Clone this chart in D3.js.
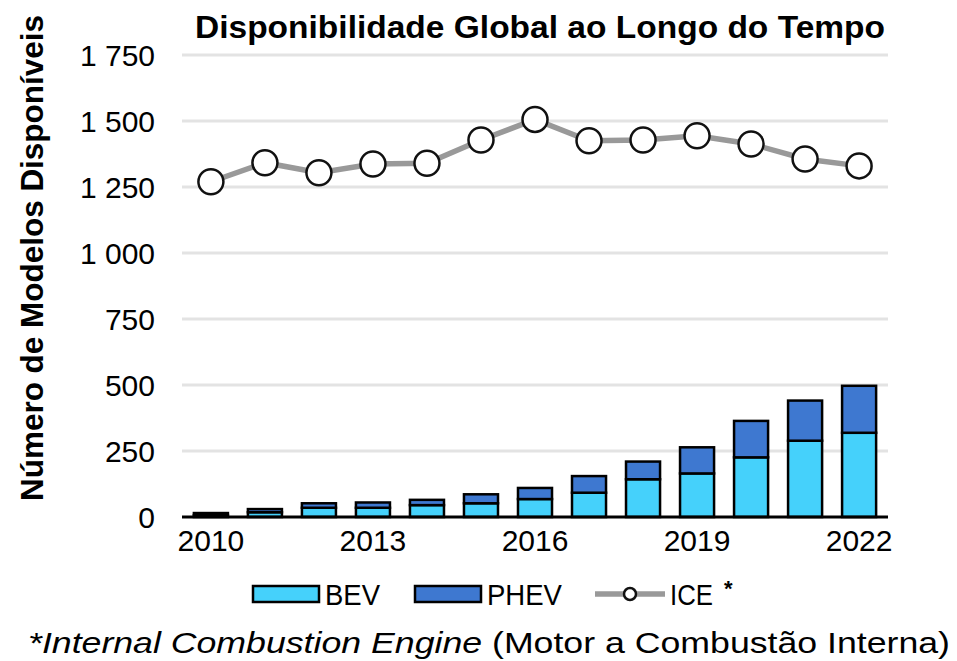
<!DOCTYPE html>
<html>
<head>
<meta charset="utf-8">
<script src="https://cdn.jsdelivr.net/npm/d3@7"></script>
<style>
  body { margin: 0; background: #fff; }
  text { font-family: "Liberation Sans", Arial, sans-serif; fill: #000; }
</style>
</head>
<body>
<svg id="chart" width="957" height="661"></svg>
<script>
// data
const years = ['2010','2011','2012','2013','2014','2015','2016','2017','2018','2019','2020','2021','2022'];
const bev  = [7, 18, 35, 35, 45, 52, 68, 92, 143, 165, 226, 289, 319];
const phev = [8, 12, 17, 20, 20, 34, 42, 63, 67, 99, 138, 152, 178];
const ice  = [1270, 1342, 1304, 1337, 1340, 1428, 1506, 1425, 1428, 1444, 1413, 1356, 1330];
const yTicks = [0, 250, 500, 750, 1000, 1250, 1500, 1750];
const xTickLabels = ['2010', '2013', '2016', '2019', '2022'];

const colBev = '#45D1FB', colPhev = '#3E78D0', colIce = '#999999';

let svg = d3.select('#chart'),
  margin = {top: 55, right: 69, bottom: 144, left: 182},
  width = +svg.attr('width') - margin.left - margin.right,
  height = +svg.attr('height') - margin.top - margin.bottom;

let x = d3.scaleBand().domain(years).range([0, width]).paddingInner(0.37).paddingOuter(0.22);
let y = d3.scaleLinear().domain([0, 1750]).range([height, 0]);

let g = svg.append('g').attr('transform', 'translate(' + margin.left + ',' + margin.top + ')');

// gridlines
g.append('g').selectAll('line').data(yTicks.filter(d => d > 0)).enter().append('line')
  .attr('x1', 0).attr('x2', width)
  .attr('y1', d => y(d)).attr('y2', d => y(d))
  .attr('stroke', '#e3e3e3').attr('stroke-width', 3);

// y tick labels
g.append('g').selectAll('text').data(yTicks).enter().append('text')
  .attr('x', -27).attr('y', d => y(d)).attr('dy', '0.36em')
  .attr('text-anchor', 'end').style('font-size', '30px')
  .text(d => d >= 1000 ? d3.format(',')(d).replace(',', ' ') : d);

// stacked bars
let stack = years.map((yr, i) => ({yr: yr, bev: bev[i], phev: phev[i]}));
let bars = g.append('g');
bars.selectAll('.bev').data(stack).enter().append('rect')
  .attr('class', 'bev')
  .attr('x', d => x(d.yr)).attr('width', x.bandwidth())
  .attr('y', d => y(d.bev)).attr('height', d => y(0) - y(d.bev))
  .attr('fill', colBev).attr('stroke', '#000').attr('stroke-width', 2.5);
bars.selectAll('.phev').data(stack).enter().append('rect')
  .attr('class', 'phev')
  .attr('x', d => x(d.yr)).attr('width', x.bandwidth())
  .attr('y', d => y(d.bev + d.phev)).attr('height', d => y(d.bev) - y(d.bev + d.phev))
  .attr('fill', colPhev).attr('stroke', '#000').attr('stroke-width', 2.5);

// baseline
g.append('line').attr('x1', 0).attr('x2', width).attr('y1', y(0)).attr('y2', y(0))
  .attr('stroke', '#000').attr('stroke-width', 3);

// x tick labels
g.append('g').selectAll('text').data(xTickLabels).enter().append('text')
  .attr('x', d => x(d) + x.bandwidth() / 2).attr('y', height + 34)
  .attr('text-anchor', 'middle').style('font-size', '30px')
  .text(d => d);

// ICE line
let cx = d => x(d) + x.bandwidth() / 2;
g.append('path').datum(ice)
  .attr('d', d3.line().x((d, i) => cx(years[i])).y(d => y(d)))
  .attr('fill', 'none').attr('stroke', colIce).attr('stroke-width', 5.5);
g.append('g').selectAll('circle').data(ice).enter().append('circle')
  .attr('cx', (d, i) => cx(years[i])).attr('cy', d => y(d)).attr('r', 12.5)
  .attr('fill', '#fff').attr('stroke', '#111').attr('stroke-width', 2.5);

// title
svg.append('text').attr('x', 195).attr('y', 38)
  .attr('textLength', 690).attr('lengthAdjust', 'spacingAndGlyphs')
  .style('font-size', '32px').style('font-weight', 'bold')
  .text('Disponibilidade Global ao Longo do Tempo');

// y axis title
svg.append('text').attr('transform', 'translate(43,501) rotate(-90)')
  .attr('textLength', 486).attr('lengthAdjust', 'spacingAndGlyphs')
  .style('font-size', '31px').style('font-weight', 'bold')
  .text('Número de Modelos Disponíveis');

// legend
let leg = svg.append('g');
leg.append('rect').attr('x', 253).attr('y', 586).attr('width', 66).attr('height', 16)
  .attr('fill', colBev).attr('stroke', '#000').attr('stroke-width', 2.5);
leg.append('text').attr('x', 325).attr('y', 605).attr('textLength', 55)
  .attr('lengthAdjust', 'spacingAndGlyphs').style('font-size', '30px').text('BEV');
leg.append('rect').attr('x', 415).attr('y', 586).attr('width', 66).attr('height', 16)
  .attr('fill', colPhev).attr('stroke', '#000').attr('stroke-width', 2.5);
leg.append('text').attr('x', 487).attr('y', 605).attr('textLength', 75)
  .attr('lengthAdjust', 'spacingAndGlyphs').style('font-size', '30px').text('PHEV');
leg.append('line').attr('x1', 595).attr('x2', 665).attr('y1', 594).attr('y2', 594)
  .attr('stroke', colIce).attr('stroke-width', 5.5);
leg.append('circle').attr('cx', 630).attr('cy', 594).attr('r', 6)
  .attr('fill', '#fff').attr('stroke', '#111').attr('stroke-width', 2.5);
leg.append('text').attr('x', 670).attr('y', 605).attr('textLength', 43)
  .attr('lengthAdjust', 'spacingAndGlyphs').style('font-size', '30px').text('ICE');
leg.append('text').attr('x', 724).attr('y', 596).style('font-size', '22px').style('font-weight', 'bold').text('*');

// footnote
let fn = svg.append('text').attr('x', 28).attr('y', 653)
  .attr('textLength', 922).attr('lengthAdjust', 'spacingAndGlyphs')
  .style('font-size', '29px');
fn.append('tspan').style('font-style', 'italic').text('*Internal Combustion Engine');
fn.append('tspan').text(' (Motor a Combustão Interna)');
</script>
</body>
</html>
